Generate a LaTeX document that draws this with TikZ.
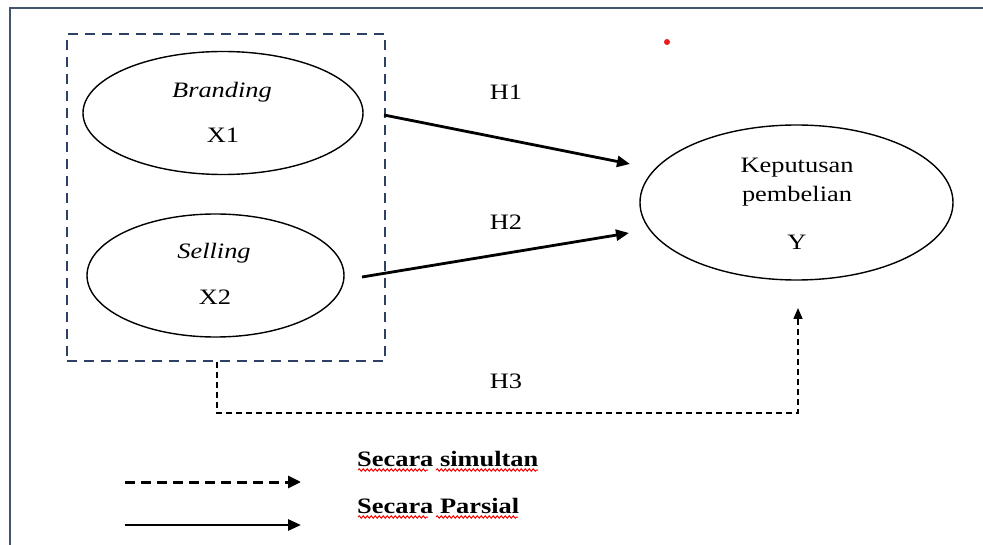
\documentclass[tikz,border=0pt]{standalone}
\usepackage{fontspec}
\setmainfont{Liberation Serif}[FakeStretch=1.2]
\usetikzlibrary{shapes.geometric,arrows.meta,decorations.pathmorphing}
\definecolor{framecol}{HTML}{44546A}
\definecolor{boxcol}{HTML}{2E4066}
\definecolor{dotred}{HTML}{E81C1C}
\begin{document}
\begin{tikzpicture}[x=1pt,y=-1pt,
 txt/.style={inner sep=0,font=\fontsize{22}{26}\selectfont},
 itxt/.style={inner sep=0,font=\fontsize{22}{26}\selectfont\itshape},
 btxt/.style={inner sep=0,font=\fontsize{22}{26}\selectfont\bfseries},
 oval/.style={draw,ellipse,line width=1.4pt,inner sep=0},
 frame/.style={draw=framecol,line width=2.2pt},
 grp/.style={draw=boxcol,line width=1.4pt,dash pattern=on 10pt off 7pt,inner sep=0},
 par/.style={line width=2.8pt,-{Triangle[length=13pt,width=11pt]}},
 sim/.style={line width=1.5pt,dash pattern=on 6pt off 4pt,-{Triangle[length=11pt,width=9pt]}},
 simleg/.style={line width=3pt,dash pattern=on 10pt off 6pt,-{Triangle[length=13pt,width=12pt]}},
 wavy/.style={draw=red,line width=1pt,decorate,decoration={snake,amplitude=1.2pt,segment length=4pt}}]
\useasboundingbox (0,0) rectangle (983,545);
\fill[white] (0,0) rectangle (983,545);
\draw[frame] (10,545) -- (10,8) -- (983,8);
\fill[dotred] (667,42) circle (3);

\node[grp,minimum width=318,minimum height=327] (box) at (226,197.5) {};
\node[oval,minimum width=280,minimum height=123] (x1) at (223,113) {};
\node[oval,minimum width=257,minimum height=123] (x2) at (215.5,275.5) {};
\node[oval,minimum width=313,minimum height=155] (y) at (796.5,202.5) {};

\node[itxt] (tb) at (222,92) {Branding};
\node[txt] (tx1) at (223,135) {X1};
\node[itxt] (ts) at (214,253) {Selling};
\node[txt] (tx2) at (215,297) {X2};
\node[txt] (tk1) at (797,168) {Keputusan};
\node[txt] (tk2) at (797,196) {pembelian};
\node[txt] (ty) at (797,242) {Y};

\node[txt] (h1) at (506,92) {H1};
\node[txt] (h2) at (506,222) {H2};
\node[txt] (h3) at (506,381) {H3};

\coordinate (h1s) at (384,115);
\coordinate (h1e) at (630,164);
\coordinate (h2s) at (362,277);
\coordinate (h2e) at (629,233);
\draw[par] (h1s) -- (h1e);
\draw[par] (h2s) -- (h2e);

\coordinate (h3e) at (798,308);
\draw[sim] (box.south -| 217,0) -- (217,413) -- (798,413) -- (h3e);

% legend
\coordinate (l1s) at (125,482);
\coordinate (l1e) at (301,482);
\coordinate (l2s) at (125,525);
\coordinate (l2e) at (301,525);
\draw[simleg] (l1s) -- (l1e);
\draw[par] (l2s) -- (l2e);
\node[btxt,anchor=base west] (ls) at (357,466) {Secara simultan};
\node[btxt,anchor=base west] (lp) at (357,513) {Secara Parsial};
\draw[wavy] (358,470) -- (428,470);
\draw[wavy] (436,470) -- (538,470);
\draw[wavy] (358,517) -- (428,517);
\draw[wavy] (436,517) -- (518,517);
\end{tikzpicture}
\end{document}
